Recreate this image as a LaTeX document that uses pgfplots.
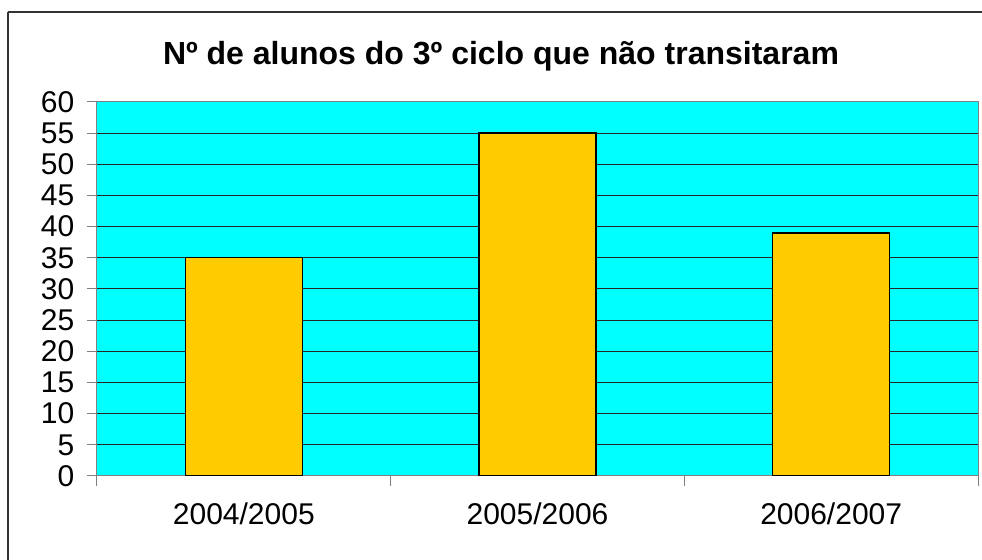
\documentclass[border=0pt]{standalone}
\usepackage{fontspec}
\setmainfont{Liberation Sans}
\usepackage{pgfplots}
\pgfplotsset{compat=1.18}
\definecolor{barfill}{RGB}{255,204,0}
\definecolor{bgcyan}{RGB}{0,255,255}
\begin{document}
\begin{tikzpicture}[x=0.75pt,y=0.75pt]
\useasboundingbox (0,0) rectangle (982,560);
\draw[line width=0.8pt, black!80] (8,0) -- (8,548.4);
\draw[line width=0.8pt, black!80] (7.6,548) -- (982,548);
\node[font=\fontsize{24pt}{28pt}\selectfont\bfseries] at (501,504) {Nº de alunos do 3º ciclo que não transitaram};
\begin{axis}[
  at={(72.75pt,63pt)}, anchor=south west,
  scale only axis, width=660.75pt, height=280.5pt,
  xmin=-0.5, xmax=2.5, ymin=0, ymax=60,
  ytick={0,5,...,60},
  xtick={0,1,2},
  xticklabels={2004/2005,2005/2006,2006/2007},
  major x tick style={draw=none},
  minor xtick={-0.5,0.5,1.5,2.5},
  minor x tick style={gray, line width=0.75pt},
  minor tick length=7.5pt,
  major tick length=7.5pt,
  tick align=outside,
  xtick pos=bottom, ytick pos=left,
  ytick style={gray, line width=0.75pt},
  ymajorgrids, major grid style={black!85, line width=0.75pt},
  axis line style={gray, line width=0.75pt},
  axis background/.style={fill=bgcyan},
  /pgf/number format/assume math mode=true,
  tick label style={font=\fontsize{22.5pt}{26pt}\selectfont},
  xticklabel style={yshift=-9pt},
  yticklabel style={xshift=-6pt},
]
\addplot[ybar, bar width=87.75pt, fill=barfill, draw=black, line width=1pt] coordinates {(0,35) (1,55) (2,39)};
\end{axis}
\end{tikzpicture}
\end{document}
